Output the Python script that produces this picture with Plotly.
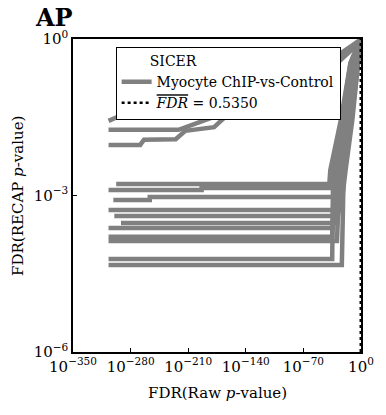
import math
import plotly.graph_objects as go

# Series values as base-10 exponents (log10 of x = FDR(raw p), log10 of y = FDR(RECAP p))
s1_x = [-306.8, -221.7, -182.0, -161.0, -32.7, -1.2]
s1_y = [-1.74, -1.74, -1.51, -1.38, -0.44, -0.02]
s2_x = [-306.8, -295.2, -260.2, -184.3, -155.2, -32.7, -1.2]
s2_y = [-1.57, -1.49, -1.48, -1.42, -1.32, -0.36, -0.02]
s3_x = [-306.8, -268.3, -263.7, -225.2, -213.5, -178.5, -158.7, -32.7, -1.2]
s3_y = [-2.03, -2.03, -1.93, -1.92, -1.76, -1.69, -1.40, -0.52, -0.06]
s4_x = [-297.5, -38.5, -37.3, -24.5, -12.8, -1.2]
s4_y = [-2.778, -2.778, -2.51, -1.55, -0.46, -0.02]
s5_x = [-306.8, -193.7, -193.7, -30.3, -28.0, -17.5, -8.2, -1.2]
s5_y = [-2.893, -2.893, -2.854, -2.854, -2.51, -1.55, -0.46, -0.02]
s6_x = [-301.0, -256.7, -256.7, -26.8, -21.0, -11.7, -3.5, -0.5]
s6_y = [-3.084, -3.084, -3.027, -3.027, -2.51, -1.55, -0.46, -0.02]
s7_x = [-306.8, -24.5, -18.7, -10.5, -3.5, -0.5]
s7_y = [-3.276, -3.276, -2.51, -1.55, -0.46, -0.02]
s8_x = [-299.8, -28.0, -21.0, -12.8, -5.8, -1.2]
s8_y = [-3.391, -3.391, -2.51, -1.55, -0.46, -0.02]
s9_x = [-291.7, -31.5, -28.0, -17.5, -8.2, -1.2]
s9_y = [-3.525, -3.525, -2.51, -1.55, -0.46, -0.02]
s10_x = [-306.8, -33.8, -30.3, -21.0, -10.5, -1.2]
s10_y = [-3.621, -3.621, -2.51, -1.55, -0.46, -0.02]
s11_x = [-306.8, -35.0, -32.7, -22.2, -11.7, -1.2]
s11_y = [-3.793, -3.793, -2.51, -1.55, -0.46, -0.02]
s12_x = [-306.8, -29.2, -25.7, -15.2, -7.0, -1.2]
s12_y = [-3.870, -3.870, -2.51, -1.55, -0.46, -0.02]
s13_x = [-306.8, -35.0, -33.8, -23.3, -12.8, -1.2]
s13_y = [-4.215, -4.215, -2.51, -1.55, -0.46, -0.02]
s14_x = [-306.8, -23.3, -21.0, -12.8, -5.8, -0.5]
s14_y = [-4.330, -4.330, -2.51, -1.55, -0.46, -0.02]

series = [(s1_x, s1_y), (s2_x, s2_y), (s3_x, s3_y), (s4_x, s4_y), (s5_x, s5_y),
          (s6_x, s6_y), (s7_x, s7_y), (s8_x, s8_y), (s9_x, s9_y), (s10_x, s10_y),
          (s11_x, s11_y), (s12_x, s12_y), (s13_x, s13_y), (s14_x, s14_y)]

# Tick positions (exponents) and labels
x_tick_exps = [-350, -280, -210, -140, -70, 0]
y_tick_exps = [-6, -3, 0]

fdr_mean = 0.5350
series_name = "Myocyte ChIP-vs-Control"
legend_title = "SICER"

FONT = "DejaVu Serif"
GRAY = "#808080"


def pow_label(e):
    return "10<sup>%s</sup>" % (("\u2212%d" % -e) if e < 0 else str(e))


fig = go.Figure()
# x values below 1e-308 underflow in floating point, so the x axis is drawn
# on the exponent (log10) scale directly.
for i, (xe, ye) in enumerate(series):
    fig.add_trace(go.Scatter(
        x=xe, y=[10 ** v for v in ye],
        mode="lines", line=dict(color=GRAY, width=4.5),
        name=series_name, legendgroup="m", showlegend=(i == 0),
        hoverinfo="skip"))

fig.add_trace(go.Scatter(
    x=[math.log10(fdr_mean)] * 2, y=[1e-6, 1],
    mode="lines", line=dict(color="black", width=2.5, dash="dot"),
    name='<span style="text-decoration:overline"><i>FDR</i></span> = %.4f' % fdr_mean,
    hoverinfo="skip"))

axis_common = dict(
    showgrid=False, zeroline=False, showline=True, mirror=True,
    linecolor="black", linewidth=1.5, ticks="inside", ticklen=4,
    tickcolor="black", ticklabeloverflow="allow",
    tickfont=dict(family=FONT, size=15, color="black"))

fig.update_layout(
    width=386, height=415,
    margin=dict(l=73, r=13, t=39, b=63),
    paper_bgcolor="white", plot_bgcolor="white",
    font=dict(family=FONT, size=15, color="black"),
    xaxis=dict(type="linear", range=[-350, 0], tickmode="array",
               tickvals=x_tick_exps, ticktext=[pow_label(e) for e in x_tick_exps],
               **axis_common),
    yaxis=dict(type="log", range=[-6, 0], tickmode="array",
               tickvals=[10 ** e for e in y_tick_exps],
               ticktext=[pow_label(e) for e in y_tick_exps], **axis_common),
    showlegend=True,
    legend=dict(
        x=0.148, y=0.975, xanchor="left", yanchor="top",
        bgcolor="white", bordercolor="black", borderwidth=1,
        title=dict(text="\u00a0" * 7 + legend_title, font=dict(family=FONT, size=14)),
        font=dict(family=FONT, size=14), tracegroupgap=0),
    annotations=[
        dict(text="<b>AP</b>", xref="paper", yref="paper", x=-0.14, y=1.015,
             xanchor="left", yanchor="bottom", showarrow=False,
             font=dict(family=FONT, size=24)),
        dict(text="FDR(Raw <i>p</i>-value)", xref="paper", yref="paper",
             x=0.5, y=-0.131, xanchor="center", yanchor="middle", showarrow=False,
             font=dict(family=FONT, size=15)),
        dict(text="FDR(RECAP <i>p</i>-value)", xref="paper", yref="paper",
             x=-0.193, y=0.5, xanchor="center", yanchor="middle", showarrow=False,
             textangle=-90, font=dict(family=FONT, size=15)),
    ],
)

fig.write_html("out.html")
